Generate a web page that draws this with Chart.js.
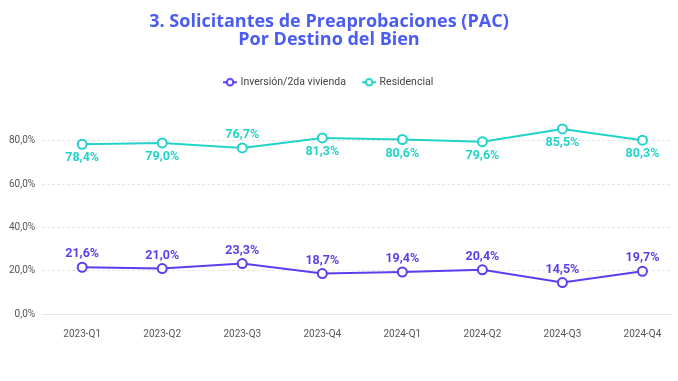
<!DOCTYPE html>
<html><head><meta charset="utf-8">
<script src="https://cdn.jsdelivr.net/npm/chart.js@4"></script>
<style>html,body{margin:0;padding:0;background:#fff}#w{width:678px;height:381px}</style>
</head><body><div id="w"><canvas id="c"></canvas></div>
<script>
const categories = ['2023-Q1','2023-Q2','2023-Q3','2023-Q4','2024-Q1','2024-Q2','2024-Q3','2024-Q4'];
const inversion = [21.6, 21.0, 23.3, 18.7, 19.4, 20.4, 14.5, 19.7];
const residencial = [78.4, 79.0, 76.7, 81.3, 80.6, 79.6, 85.5, 80.3];
const yTicks = [0, 20, 40, 60, 80];
const seriesNames = ['Inversión/2da vivienda', 'Residencial'];
const colInv = '#5a3ff0';
const colRes = '#22d3c9';

const fmt = v => v.toFixed(1).replace('.', ',') + '%';

function legendMarker(color) {
  const c = document.createElement('canvas');
  c.width = 14; c.height = 10;
  const g = c.getContext('2d');
  g.strokeStyle = color; g.lineWidth = 2;
  g.beginPath(); g.moveTo(0, 5); g.lineTo(14, 5); g.stroke();
  g.fillStyle = '#fff';
  g.beginPath(); g.arc(7, 5, 3.3, 0, Math.PI * 2); g.fill(); g.stroke();
  return c;
}

const labelPlugin = {
  id: 'vlabels',
  afterLayout(chart) {
    const x = chart.scales.x;
    x._length += 11;
    x._endPixel = x._startPixel + x._length;
    chart.titleBlock.left -= 16;
    chart.legend.left -= 16;
  },
  afterDatasetsDraw(chart) {
    const ctx = chart.ctx;
    ctx.save();
    ctx.font = 'bold 12.5px Roboto, "Open Sans", sans-serif';
    ctx.textAlign = 'center';
    ctx.textBaseline = 'middle';
    chart.data.datasets.forEach((ds, di) => {
      const meta = chart.getDatasetMeta(di);
      meta.data.forEach((pt, i) => {
        const v = ds.data[i];
        let above = di === 0;
        if (di === 1 && i === 2) above = true;
        const dy = above ? -13 : 14;
        ctx.fillStyle = ds.borderColor;
        ctx.fillText(fmt(v), pt.x, pt.y + dy);
      });
    });
    ctx.restore();
  }
};

new Chart(document.getElementById('c'), {
  type: 'line',
  data: {
    labels: categories,
    datasets: [
      { label: seriesNames[0], data: inversion, borderColor: colInv, backgroundColor: '#fff',
        borderWidth: 2, pointRadius: 4.5, pointBorderWidth: 2, pointBackgroundColor: '#fff', tension: 0,
        pointStyle: 'circle' },
      { label: seriesNames[1], data: residencial, borderColor: colRes, backgroundColor: '#fff',
        borderWidth: 2, pointRadius: 4.5, pointBorderWidth: 2, pointBackgroundColor: '#fff', tension: 0,
        pointStyle: 'circle' }
    ]
  },
  options: {
    responsive: true, maintainAspectRatio: false, animation: false,
    layout: { padding: { left: 2, right: 6, top: 0, bottom: 35 } },
    plugins: {
      title: {
        display: true,
        text: ['3. Solicitantes de Preaprobaciones (PAC)', 'Por Destino del Bien'],
        color: '#4b5cf2',
        font: { family: '"Open Sans", sans-serif', size: 18, weight: 'bold', lineHeight: 1.0 },
        padding: { top: 13, bottom: 10 }
      },
      legend: {
        position: 'top',
        labels: {
          usePointStyle: true,
          generateLabels(chart) {
            return chart.data.datasets.map((ds, i) => ({
              text: ds.label, pointStyle: legendMarker(ds.borderColor), fillStyle: '#fff',
              strokeStyle: ds.borderColor, lineWidth: 0, hidden: false, datasetIndex: i, fontColor: '#444'
            }));
          },
          color: '#444', font: { family: 'Roboto, sans-serif', size: 10.5 }, padding: 18
        }
      },
      tooltip: { enabled: false }
    },
    scales: {
      x: {
        offset: true,
        grid: { display: false },
        border: { display: true, color: '#e4e4ee' },
        ticks: { color: '#555', font: { family: 'Roboto, sans-serif', size: 10 }, padding: 6 }
      },
      y: {
        min: 0, max: 100,
        afterBuildTicks(scale) { scale.ticks = yTicks.map(v => ({ value: v })); },
        border: { display: false, dash: [3, 2] },
        grid: { color: '#e6e6e6', drawTicks: false, lineWidth: 1 },
        ticks: {
          color: '#555', font: { family: 'Roboto, sans-serif', size: 10 }, padding: 7,
          callback: v => v.toFixed(1).replace('.', ',') + '%'
        }
      }
    }
  },
  plugins: [labelPlugin]
});
</script></body></html>
